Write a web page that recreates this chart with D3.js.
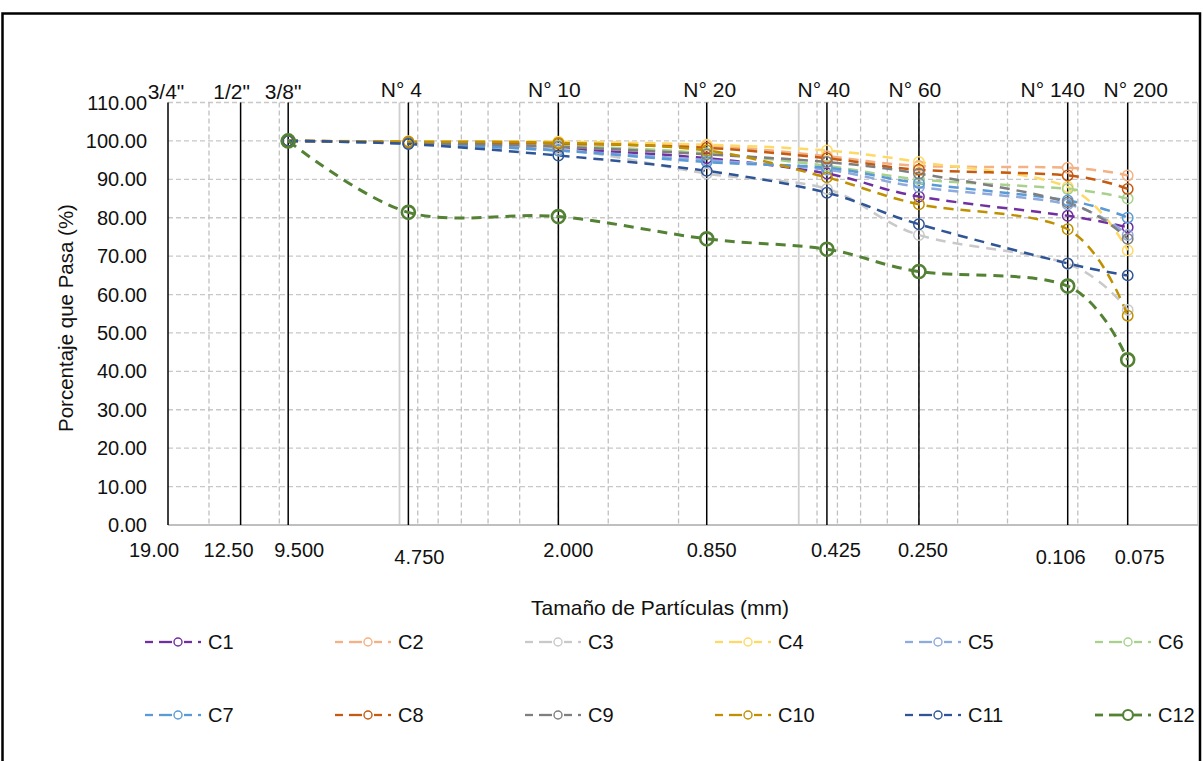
<!DOCTYPE html>
<html>
<head>
    <meta charset="utf-8">
    <script src="https://d3js.org/d3.v7.min.js"></script>
    <style>
        body, html {
            margin: 0;
            background: #fff;
            overflow: hidden;
        }
        text {
            font-family: "Liberation Sans", Arial, sans-serif;
            fill: #111;
        }
    </style>
</head>
<body>
<div id="chart"></div>
<script>
    // sieve sizes (mm) with their names along the top
    const sieveNames = ['3/4"', '1/2"', '3/8"', 'N° 4', 'N° 10', 'N° 20', 'N° 40', 'N° 60', 'N° 140', 'N° 200'];
    const sieveSizes = [19.00, 12.50, 9.500, 4.750, 2.000, 0.850, 0.425, 0.250, 0.106, 0.075];
    const sizeLabels = ['19.00', '12.50', '9.500', '4.750', '2.000', '0.850', '0.425', '0.250', '0.106', '0.075'];
    const yTicks = [0, 10, 20, 30, 40, 50, 60, 70, 80, 90, 100, 110];

    // sizes that were tested for every sample
    const testSizes = [9.500, 4.750, 2.000, 0.850, 0.425, 0.250, 0.106, 0.075];

    const seriesNames = ['C1', 'C2', 'C3', 'C4', 'C5', 'C6', 'C7', 'C8', 'C9', 'C10', 'C11', 'C12'];
    const C1  = [100, 99.6, 98.0, 95.5, 91.5, 85.5, 80.5, 77.5];
    const C2  = [100, 99.8, 99.6, 98.8, 96.0, 93.5, 93.0, 91.0];
    const C3  = [100, 99.5, 98.0, 91.5, 87.5, 75.5, 68.0, 56.0];
    const C4  = [100, 99.9, 99.8, 99.0, 97.5, 94.5, 88.0, 71.5];
    const C5  = [100, 99.4, 97.5, 95.0, 92.5, 88.0, 83.5, 75.5];
    const C6  = [100, 99.6, 98.8, 96.8, 93.5, 90.0, 87.5, 85.0];
    const C7  = [100, 99.3, 97.5, 94.5, 93.0, 89.0, 84.5, 80.0];
    const C8  = [100, 99.7, 99.3, 98.2, 95.5, 92.5, 91.0, 87.5];
    const C9  = [100, 99.5, 98.5, 96.5, 94.5, 91.5, 84.0, 74.5];
    const C10 = [100, 99.8, 99.5, 97.5, 90.5, 83.5, 77.0, 54.5];
    const C11 = [100, 99.2, 96.2, 92.2, 86.5, 78.3, 68.1, 65.0];
    const C12 = [100, 81.4, 80.3, 74.5, 71.8, 66.0, 62.2, 43.0];
    const seriesValues = [C1, C2, C3, C4, C5, C6, C7, C8, C9, C10, C11, C12];

    const colors = ['#7030A0', '#F4B183', '#C9C9C9', '#FFD966', '#8FAADC', '#A9D18E',
                    '#5B9BD5', '#C55A11', '#7F7F7F', '#BF9000', '#2F5597', '#548235'];

    const width = 1203, height = 761;
    const plotLeft = 168, plotRight = 1198, plotTop = 102.5, plotBottom = 525;

    // hand placed labels in the sheet sit a little off their lines
    const nameShift = [-2, -9, -5, -7, -4, 3, -3, -4, -15, 8];
    const sizeShift = [-14, -12, 11, 11, 10, 5, 9, 4, -7, 12];
    const lowLabels = ['4.750', '0.106', '0.075'];

    const svg = d3.select("#chart")
                  .append("svg")
                  .attr("width", width)
                  .attr("height", height);

    // outer frame
    svg.append("rect")
       .attr("x", 2.5).attr("y", 13.5)
       .attr("width", 1197.5).attr("height", 800)
       .attr("fill", "none").attr("stroke", "#000").attr("stroke-width", 2.5);

    // log axis, reversed, min 0.05 like the spreadsheet
    const x = d3.scaleLog().domain([19, 0.05]).range([plotLeft, plotRight]);
    const y = d3.scaleLinear().domain([0, 110]).range([plotBottom, plotTop]);

    // grid lines of the log axis: majors at 5, 0.5, 0.05, minors in between
    const majors = [5, 0.5, 0.05];
    const minors = [];
    [0.05, 0.5, 5].forEach(base => {
        for (let k = 2; k <= 9; k++) {
            const v = +(base * k).toFixed(4);
            if (v < 19) minors.push(v);
        }
    });

    const grid = svg.append("g");
    grid.selectAll(".hgrid")
        .data(yTicks.filter(d => d > 0))
        .join("line")
        .attr("x1", plotLeft).attr("x2", plotRight)
        .attr("y1", d => y(d)).attr("y2", d => y(d))
        .attr("stroke", "#c8c8c8").attr("stroke-width", 1.3)
        .attr("stroke-dasharray", "5,3");
    grid.selectAll(".vminor")
        .data(minors)
        .join("line")
        .attr("x1", d => x(d)).attr("x2", d => x(d))
        .attr("y1", plotTop).attr("y2", plotBottom)
        .attr("stroke", "#c0c0c0").attr("stroke-width", 1.3)
        .attr("stroke-dasharray", "5,3");
    grid.selectAll(".vmajor")
        .data(majors)
        .join("line")
        .attr("x1", d => x(d)).attr("x2", d => x(d))
        .attr("y1", plotTop).attr("y2", plotBottom)
        .attr("stroke", "#cfcfcf").attr("stroke-width", 1.8);
    grid.append("line")
        .attr("x1", plotLeft).attr("x2", plotRight)
        .attr("y1", y(0)).attr("y2", y(0))
        .attr("stroke", "#bfbfbf").attr("stroke-width", 1.8);

    // black sieve lines
    svg.append("g").selectAll("line")
       .data(sieveSizes)
       .join("line")
       .attr("x1", d => x(d)).attr("x2", d => x(d))
       .attr("y1", y(0)).attr("y2", y(110))
       .attr("stroke", "#000").attr("stroke-width", 1.5);

    // sieve names above the plot
    svg.append("g").selectAll("text")
       .data(sieveSizes)
       .join("text")
       .attr("x", (d, i) => x(d) + nameShift[i])
       .attr("y", (d, i) => i < 3 ? 99 : 97)
       .attr("text-anchor", "middle")
       .style("font-size", "21px")
       .text((d, i) => sieveNames[i]);

    // size labels below (some sit lower, as in the sheet)
    svg.append("g").selectAll("text")
       .data(sieveSizes)
       .join("text")
       .attr("x", (d, i) => x(d) + sizeShift[i])
       .attr("y", (d, i) => lowLabels.includes(sizeLabels[i]) ? 564 : 557)
       .attr("text-anchor", "middle")
       .style("font-size", "20px")
       .text((d, i) => sizeLabels[i]);

    // y axis labels
    svg.append("g").selectAll("text")
       .data(yTicks)
       .join("text")
       .attr("x", 147).attr("y", d => y(d) + 7)
       .attr("text-anchor", "end")
       .style("font-size", "20px")
       .text(d => d3.format(".2f")(d));

    // axis titles
    svg.append("text")
       .attr("transform", `translate(73, 318) rotate(-90)`)
       .attr("text-anchor", "middle")
       .style("font-size", "20.5px")
       .text("Porcentaje que Pasa (%)");
    svg.append("text")
       .attr("x", 660).attr("y", 615)
       .attr("text-anchor", "middle")
       .style("font-size", "21px")
       .text("Tamaño de Partículas (mm)");

    // series, smoothed like the spreadsheet
    const line = d3.line()
                   .x(d => x(d.size))
                   .y(d => y(d.value))
                   .curve(d3.curveCatmullRom.alpha(0));

    const series = seriesNames.map((name, i) => ({
        name: name,
        color: colors[i],
        big: name === 'C12',
        points: testSizes.map((s, j) => ({size: s, value: seriesValues[i][j]}))
    }));

    const plot = svg.append("g");
    series.forEach(s => {
        plot.append("path")
            .attr("d", line(s.points))
            .attr("fill", "none")
            .attr("stroke", s.color)
            .attr("stroke-width", s.big ? 3 : 2.5)
            .attr("stroke-dasharray", "10,7");
    });
    series.forEach(s => {
        plot.append("g").selectAll("circle")
            .data(s.points)
            .join("circle")
            .attr("cx", d => x(d.size))
            .attr("cy", d => y(d.value))
            .attr("r", s.big ? 6.5 : 5.2)
            .attr("fill", "none")
            .attr("stroke", s.color)
            .attr("stroke-width", s.big ? 2.6 : 1.5);
    });

    // legend, two rows of six: "- -o- -"
    const legend = svg.append("g");
    series.forEach((s, i) => {
        const col = i % 6, row = Math.floor(i / 6);
        const lx = 145 + col * 190, ly = row === 0 ? 642 : 715;
        const g = legend.append("g").attr("transform", `translate(${lx}, ${ly})`);
        [[0, 8], [14, 27], [39, 47], [53, 56]].forEach(seg => {
            g.append("line")
             .attr("x1", seg[0]).attr("x2", seg[1]).attr("y1", 0).attr("y2", 0)
             .attr("stroke", s.color).attr("stroke-width", s.big ? 2.8 : 2.3);
        });
        g.append("circle")
         .attr("cx", 33).attr("cy", 0).attr("r", s.big ? 5 : 4)
         .attr("fill", "#fff")
         .attr("stroke", s.color).attr("stroke-width", s.big ? 2.2 : 1.4);
        g.append("text")
         .attr("x", 63).attr("y", 7)
         .style("font-size", "20px")
         .text(s.name);
    });
</script>
</body>
</html>
